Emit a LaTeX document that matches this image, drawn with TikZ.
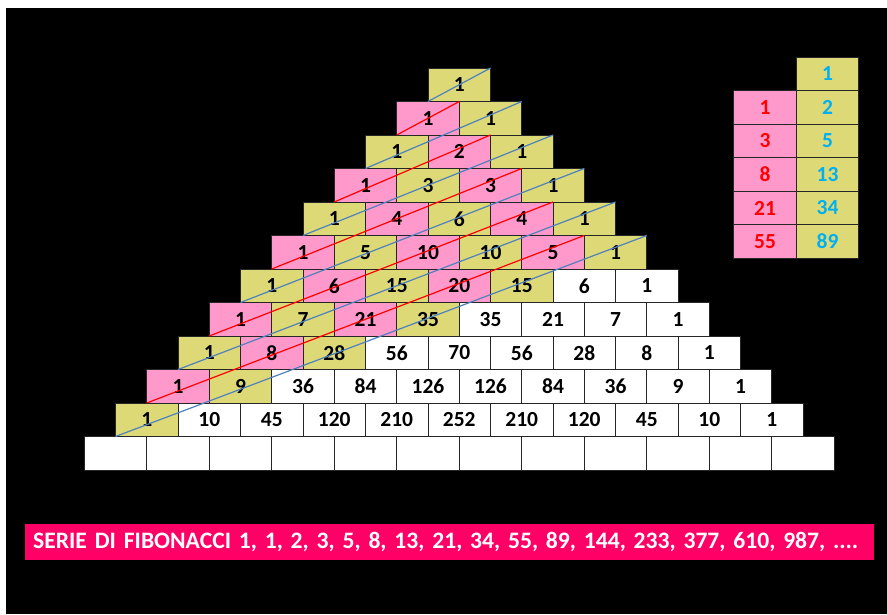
\documentclass[tikz,border=0pt]{standalone}
\usepackage{fontspec}
\setmainfont{Carlito}
\usetikzlibrary{positioning}
\definecolor{cellyellow}{RGB}{221,217,119}
\definecolor{cellpink}{RGB}{255,153,204}
\definecolor{barpink}{RGB}{255,0,102}
\definecolor{lineblue}{RGB}{79,129,189}
\definecolor{numcyan}{RGB}{0,176,240}

\begin{document}
\begin{tikzpicture}[x=1pt,y=-1pt,
 cell/.style={draw=black!85,line width=0.8pt,minimum width=62.5pt,minimum height=33.5pt,
   inner sep=0pt,outer sep=0pt,font=\fontsize{21.5}{21.5}\selectfont\bfseries},
 fibline/.style={line width=1.2pt},
 bar/.style={fill=barpink,text=white,anchor=north west,inner xsep=8pt,text width=833pt,
   minimum height=36pt,align=left,font=\fontsize{23.6}{23.6}\selectfont\bfseries}]
\useasboundingbox (0,0) rectangle (887,614);
\fill[white] (0,0) rectangle (887,614);
\fill[black] (6,8) rectangle (887,614);
% triangolo di Tartaglia
\foreach \vals [count=\r from 0] in {{1},{1,1},{1,2,1},{1,3,3,1},{1,4,6,4,1},{1,5,10,10,5,1},
  {1,6,15,20,15,6,1},{1,7,21,35,35,21,7,1},{1,8,28,56,70,56,28,8,1},{1,9,36,84,126,126,84,36,9,1},
  {1,10,45,120,210,252,210,120,45,10,1}}{
  \foreach \v [count=\c from 0] in \vals {
    \pgfmathtruncatemacro\n{\r+\c}
    \ifnum\n>10 \def\cellfill{white}\else\ifodd\n \def\cellfill{cellpink}\else\def\cellfill{cellyellow}\fi\fi
    \node[cell,fill=\cellfill] (c-\r-\c) at ({459.25-31.25*\r+62.5*\c},{84.75+33.5*\r}) {\v};
  }
}
\foreach \c in {0,...,11}
  \node[cell,fill=white] (c-11-\c) at ({459.25-31.25*11+62.5*\c},{84.75+33.5*11}) {};
% diagonali
\foreach \n in {0,...,10}{
  \pgfmathtruncatemacro\m{floor(\n/2)}
  \pgfmathtruncatemacro\rr{\n-\m}
  \ifodd\n \def\lc{red}\else\def\lc{lineblue}\fi
  \draw[fibline,\lc] (c-\n-0.south west) -- (c-\rr-\m.north east);
}
% tabella
\node[cell,fill=cellyellow,text=numcyan] (fy-0) at (827.5,74) {1};
\foreach \v [count=\i] in {2,5,13,34,89}{
  \pgfmathtruncatemacro\j{\i-1}
  \node[cell,fill=cellyellow,text=numcyan,below=0pt of fy-\j] (fy-\i) {\v};
}
\foreach \v [count=\i] in {1,3,8,21,55}
  \node[cell,fill=cellpink,text=red,left=0pt of fy-\i] (fp-\i) {\v};
\node[bar] (serie) at (25,524) {SERIE DI FIBONACCI 1, 1, 2, 3, 5, 8, 13, 21, 34, 55, 89, 144, 233, 377, 610, 987, ....};
\end{tikzpicture}
\end{document}
